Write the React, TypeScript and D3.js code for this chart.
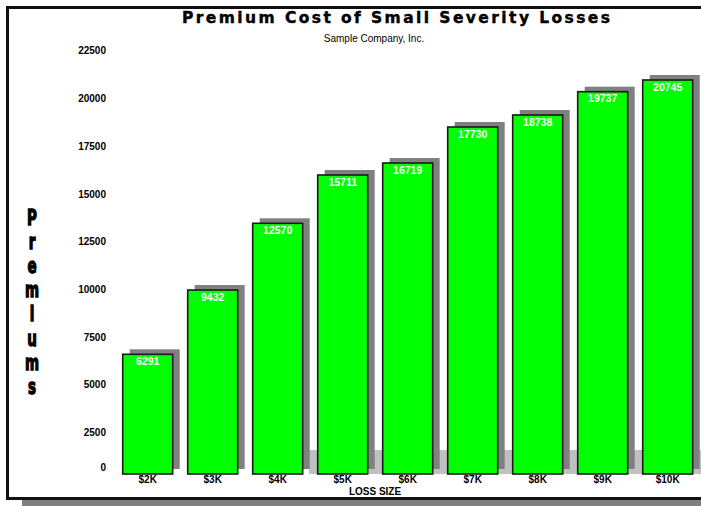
import * as d3 from "d3";

// categories and values
const lossSizes = ["$2K", "$3K", "$4K", "$5K", "$6K", "$7K", "$8K", "$9K", "$10K"];
// printed data labels
const premiumLabels = [6291, 9432, 12570, 15711, 16719, 17730, 18738, 19737, 20745];
// bar heights as drawn in the picture (they do not all match the printed labels)
const premiumBars = [6272, 9640, 13137, 15668, 16296, 18183, 18812, 20033, 20645];
const yTicks = [0, 2500, 5000, 7500, 10000, 12500, 15000, 17500, 20000, 22500];
const yTitle = "Premiums".split("");

const W = 701;
const H = 506;

export default function App() {
  const x = d3
    .scaleBand<string>()
    .domain(lossSizes)
    .range([115.2, 115.2 + 65 * lossSizes.length])
    .paddingInner(15 / 65)
    .paddingOuter(7.5 / 65);
  const y = d3.scaleLinear().domain([0, 22500]).range([474, 44.6]);
  const base = y(0);
  const bw = x.bandwidth();
  const sdx = 7;
  const sdy = -5;
  const font = "'Liberation Sans', Arial, sans-serif";

  return (
    <svg
      width={W}
      height={H}
      style={{ position: "absolute", left: 0, top: 0, background: "#fff" }}
      fontFamily={font}
    >
      {/* frame shadow + frame */}
      <rect x={22} y={500} width={W} height={10} fill="#808080" />
      <rect x={7.5} y={7.5} width={W + 20} height={491} fill="#fff" stroke="#111" strokeWidth={3} />

      {/* title */}
      <text
        x={396}
        y={23}
        textAnchor="middle"
        fontFamily="'DejaVu Sans', sans-serif"
        fontWeight={900}
        fontSize={15.5}
        textLength={428}
        lengthAdjust="spacing"
        stroke="#000"
        strokeWidth={0.4}
        fill="#000"
      >
        Premium Cost of Small Severity Losses
      </text>
      <text x={374} y={41.5} textAnchor="middle" fontSize={10} fill="#000">
        Sample Company, Inc.
      </text>

      {/* floor */}
      <rect x={309} y={450} width={W} height={base - 450} fill="#c0c0c0" />

      {/* shadows */}
      {premiumBars.map((v, i) => (
        <rect
          key={"s" + i}
          x={(x(lossSizes[i]) ?? 0) + sdx}
          y={y(v) + sdy}
          width={bw}
          height={base - y(v)}
          fill="#808080"
        />
      ))}

      {/* bars */}
      {premiumBars.map((v, i) => (
        <rect
          key={"b" + i}
          x={x(lossSizes[i])}
          y={y(v)}
          width={bw}
          height={base - y(v)}
          fill="#00ff00"
          stroke="#1a1a1a"
          strokeWidth={1.6}
        />
      ))}

      {/* data labels */}
      {premiumLabels.map((v, i) => (
        <text
          key={"l" + i}
          x={(x(lossSizes[i]) ?? 0) + bw / 2}
          y={y(premiumBars[i]) + 10.8}
          textAnchor="middle"
          fontSize={10.5}
          fontWeight="bold"
          fill="#fff"
        >
          {v}
        </text>
      ))}

      {/* y tick labels */}
      {yTicks.map((t) => (
        <text
          key={"y" + t}
          x={106}
          y={Math.min(y(t) + 9.8, 471.3)}
          textAnchor="end"
          fontSize={10}
          fontWeight="bold"
          fill="#000"
        >
          {t}
        </text>
      ))}

      {/* x tick labels */}
      {lossSizes.map((c) => (
        <text
          key={"x" + c}
          x={(x(c) ?? 0) + bw / 2}
          y={483}
          textAnchor="middle"
          fontSize={10}
          fontWeight="bold"
          fill="#000"
        >
          {c}
        </text>
      ))}
      <text x={375} y={495.3} textAnchor="middle" fontSize={10} fontWeight="bold" fill="#000">
        LOSS SIZE
      </text>

      {/* y title, stacked condensed letters */}
      {yTitle.map((ch, i) => (
        <text
          key={"t" + i}
          transform={`translate(32, ${225 + i * 24.1}) scale(0.66, 1)`}
          textAnchor="middle"
          fontFamily="'DejaVu Sans', sans-serif"
          fontWeight="bold"
          fontSize={20.5}
          stroke="#000"
          strokeWidth={1.3}
          fill="#000"
        >
          {ch}
        </text>
      ))}
    </svg>
  );
}
